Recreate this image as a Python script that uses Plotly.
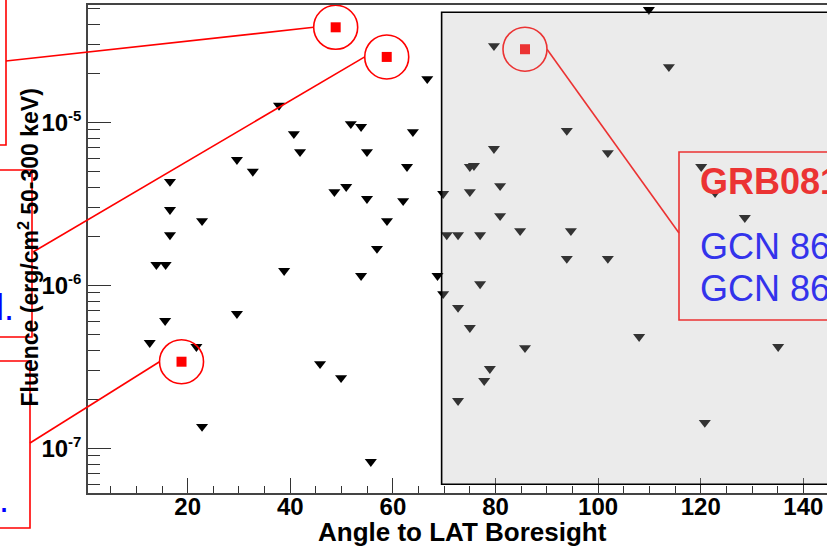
import math
import plotly.graph_objects as go

# ---------------- data ----------------
# GBM bursts: upper limits (black downward triangles)
angle_ul = [37.8, 40.7, 41.9, 29.6, 32.7, 16.55, 16.55, 22.8, 16.55, 13.9,
            15.7, 38.8, 29.6, 15.6, 12.6, 21.7, 45.8, 22.8, 79.7, 66.7,
            51.8, 53.8, 63.9, 93.9, 54.95, 79.7, 62.75, 75.0, 75.8, 80.9,
            50.9, 48.6, 54.95, 62.0, 69.8, 75.0, 58.85, 80.9, 84.8, 94.7,
            70.5, 72.7, 77.0, 56.9, 93.9, 53.8, 68.7, 77.0, 69.8, 72.7,
            75.0, 85.75, 78.9, 77.8, 49.9, 72.7, 55.7, 109.9, 113.8, 101.9,
            120.1, 122.8, 128.6, 101.9, 108.0, 135.1, 120.8]
fluence_ul = [1.27e-5, 8.5e-6, 6.6e-6, 5.9e-6, 5.0e-6, 4.33e-6, 2.91e-6, 2.49e-6, 2.04e-6, 1.34e-6,
              1.34e-6, 1.23e-6, 6.7e-7, 6.07e-7, 4.45e-7, 4.2e-7, 3.3e-7, 1.36e-7, 2.95e-5, 1.85e-5,
              9.8e-6, 9.4e-6, 8.75e-6, 8.9e-6, 6.6e-6, 6.89e-6, 5.35e-6, 5.35e-6, 5.42e-6, 4.08e-6,
              4.03e-6, 3.75e-6, 3.4e-6, 3.3e-6, 3.65e-6, 3.75e-6, 2.49e-6, 2.67e-6, 2.16e-6, 2.16e-6,
              2.04e-6, 2.04e-6, 2.04e-6, 1.68e-6, 1.46e-6, 1.146e-6, 1.146e-6, 1.02e-6, 8.87e-7, 7.3e-7,
              5.5e-7, 4.14e-7, 3.08e-7, 2.6e-7, 2.71e-7, 1.96e-7, 8.28e-8, 4.91e-5, 2.19e-5, 6.5e-6,
              5.35e-6, 3.7e-6, 2.6e-6, 1.46e-6, 4.84e-7, 4.2e-7, 1.44e-7]

# LAT detected bursts (red squares, circled)
angle_lat = [48.85, 58.8, 85.75, 18.8]
fluence_lat = [3.83e-5, 2.52e-5, 2.81e-5, 3.40e-7]

x_ticks = [20, 40, 60, 80, 100, 120, 140]
y_ticks = [1e-7, 1e-6, 1e-5]
y_tick_labels = ["10<sup><span style='font-size:15px'>-7</span></sup>",
                 "10<sup><span style='font-size:15px'>-6</span></sup>",
                 "10<sup><span style='font-size:15px'>-5</span></sup>"]
y_minor = [k * 10.0 ** e for e in (-8, -7, -6, -5) for k in range(2, 10)]

x_title = "Angle to LAT Boresight"
y_title = "Fluence (erg/cm<sup>2</sup> 50-300 keV)"
grb_label = "GRB081215A"
gcn_labels = ["GCN 86", "GCN 86"]
box2_text = "l."
box3_text = "."

# ---------------- layout geometry ----------------
W, H = 827, 546
ML, MR, MT, MB = 88, 0, 5, 53
PW, PH = W - ML - MR, H - MT - MB
X_RANGE = [0.57, 144.62]
Y_RANGE = [-7.274, -4.280]
FOV_EDGE = 69.5  # start of shaded region (angle)
RED = "#ff0000"
FONT = "Liberation Sans"


def paper(px, py):
    return (px - ML) / PW, (MT + PH - py) / PH


def data_px(xv, yv):
    px = ML + (xv - X_RANGE[0]) / (X_RANGE[1] - X_RANGE[0]) * PW
    py = MT + (Y_RANGE[1] - math.log10(yv)) / (Y_RANGE[1] - Y_RANGE[0]) * PH
    return px, py


fig = go.Figure()

fig.add_trace(go.Scatter(
    x=angle_ul, y=fluence_ul, mode="markers",
    marker=dict(symbol="triangle-down", size=10.5, color="black", line=dict(width=0)),
    hoverinfo="skip", showlegend=False))

fig.add_trace(go.Scatter(
    x=angle_lat, y=fluence_lat, mode="markers",
    marker=dict(symbol="circle-open", size=44, color=RED, line=dict(width=1.6, color=RED)),
    hoverinfo="skip", showlegend=False))

fig.add_trace(go.Scatter(
    x=angle_lat, y=fluence_lat, mode="markers",
    marker=dict(symbol="square", size=10, color=RED, line=dict(width=0)),
    hoverinfo="skip", showlegend=False))

shapes = []


def rect_px(x0, y0, x1, y1, color=RED):
    a = paper(x0, y1)
    b = paper(x1, y0)
    shapes.append(dict(type="rect", xref="paper", yref="paper",
                       x0=a[0], y0=a[1], x1=b[0], y1=b[1],
                       line=dict(color=color, width=1.6), fillcolor="rgba(0,0,0,0)",
                       layer="above"))


def line_px(x0, y0, x1, y1, color=RED):
    a = paper(x0, y0)
    b = paper(x1, y1)
    shapes.append(dict(type="line", xref="paper", yref="paper",
                       x0=a[0], y0=a[1], x1=b[0], y1=b[1],
                       line=dict(color=color, width=1.6), layer="above"))


R_CIRCLE = 22
# annotation boxes (partly outside the visible window)
rect_px(-300, -100, 6, 145)
rect_px(-300, 170, 32, 337)
rect_px(-300, 361, 30, 528)
rect_px(679, 152, 1200, 320)

ca = data_px(angle_lat[0], fluence_lat[0])
cb = data_px(angle_lat[1], fluence_lat[1])
cc = data_px(angle_lat[2], fluence_lat[2])
cd = data_px(angle_lat[3], fluence_lat[3])
line_px(6, 61, ca[0] - R_CIRCLE, ca[1])
line_px(33, 252, cb[0] - R_CIRCLE, cb[1])
line_px(30, 443, cd[0] - R_CIRCLE, cd[1])
line_px(cc[0] + R_CIRCLE, cc[1], 679, 233)

# shaded region outside the LAT field of view (drawn over the points)
shapes.append(dict(type="rect", xref="x", yref="paper",
                   x0=FOV_EDGE, x1=X_RANGE[1] + 30,
                   y0=paper(0, 484.3)[1], y1=paper(0, 12.3)[1],
                   fillcolor="rgba(183,183,183,0.278)",
                   line=dict(color="black", width=1.6), layer="above"))

annotations = []


def text_px(px, py, text, size, color, xanchor, bold=False):
    p = paper(px, py)
    annotations.append(dict(xref="paper", yref="paper", x=p[0], y=p[1], text=text,
                            showarrow=False, xanchor=xanchor, yanchor="middle",
                            font=dict(family=FONT, size=size, color=color,
                                      weight="bold" if bold else "normal")))


text_px(698, 181.5, grb_label, 36, "#eb3333", "left", bold=True)
text_px(698, 246.5, gcn_labels[0], 36, "#3333eb", "left")
text_px(698, 288.5, gcn_labels[1], 36, "#3333eb", "left")
text_px(16, 307, box2_text, 36, "#0000ff", "right")
text_px(10.5, 499, box3_text, 36, "#0000ff", "right")

# axis titles
text_px(462.5, 532, x_title, 26, "black", "center", bold=True)
pt = paper(28, 247.5)
annotations.append(dict(xref="paper", yref="paper", x=pt[0], y=pt[1], text=y_title,
                        showarrow=False, textangle=-90, xanchor="center", yanchor="middle",
                        font=dict(family=FONT, size=23, color="black", weight="bold")))

axis_common = dict(showgrid=False, zeroline=False, showline=True,
                   linecolor="#444444", linewidth=1.5,
                   ticks="inside", tickcolor="#333333", tickwidth=1.3)

fig.update_layout(
    width=W, height=H,
    margin=dict(l=ML, r=MR, t=MT, b=MB, pad=0),
    paper_bgcolor="white", plot_bgcolor="white",
    showlegend=False,
    xaxis=dict(range=X_RANGE, tickmode="array", tickvals=x_ticks, ticklen=15,
               mirror=True, ticklabelstandoff=-9,
               tickfont=dict(family=FONT, size=24, color="black", weight="bold"),
               minor=dict(tick0=0, dtick=5, ticks="inside", ticklen=7,
                          tickcolor="#333333", tickwidth=1.3, showgrid=False),
               **axis_common),
    yaxis=dict(type="log", range=Y_RANGE, tickmode="array", tickvals=y_ticks,
               ticktext=y_tick_labels, ticklen=23,
               tickfont=dict(family=FONT, size=24, color="black", weight="bold"),
               minor=dict(tickmode="array", tickvals=y_minor, ticks="inside", ticklen=12,
                          tickcolor="#333333", tickwidth=1.3, showgrid=False),
               **axis_common),
    shapes=shapes,
    annotations=annotations,
)

fig.write_html("out.html", config={"displayModeBar": False},
               post_script="document.body.style.margin='0px';document.body.style.overflow='hidden';")
